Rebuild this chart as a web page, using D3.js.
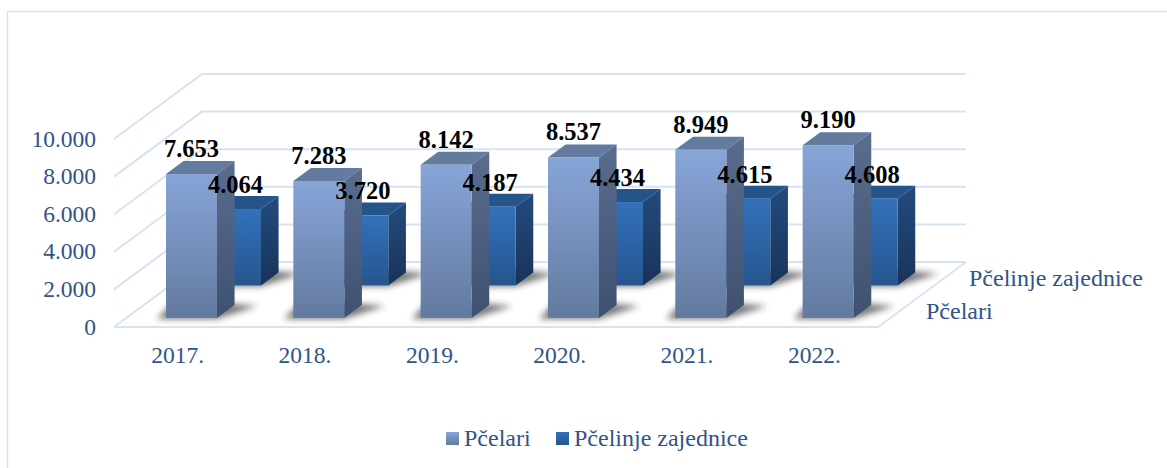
<!DOCTYPE html>
<html>
<head>
<meta charset="utf-8">
<script src="https://cdn.jsdelivr.net/npm/d3@7"></script>
<style>
html, body { margin: 0; padding: 0; background: #fff; }
svg { display: block; }
text { font-family: "Liberation Serif", serif; }
</style>
</head>
<body>
<div id="chart"></div>
<script>
const years = ["2017.", "2018.", "2019.", "2020.", "2021.", "2022."];
const pcelari = [7653, 7283, 8142, 8537, 8949, 9190];
const zajednice = [4064, 3720, 4187, 4434, 4615, 4608];
const seriesNames = ["Pčelari", "Pčelinje zajednice"];
const yTicks = [0, 2000, 4000, 6000, 8000, 10000];

const width = 1167, height = 468;
const svg = d3.select("#chart").append("svg")
    .attr("width", width)
    .attr("height", height);

const textColor = "#2f5489", gridColor = "#d6e3f3";

// Scales: x along the front edge, y up the wall, z into the depth of the floor
const xScale = d3.scaleBand().domain(years).range([114, 878]);
const yScale = d3.scaleLinear().domain([0, 10000]).range([327, 139]);
const depthX = d3.scaleLinear().domain([0, 1]).range([0, 88]);
const depthY = d3.scaleLinear().domain([0, 1]).range([0, -65]);
const zScale = d3.scaleBand().domain(seriesNames).range([0, 1]);

const barWidth = 51;
const barDepth = 0.2;
const zInset = 0.14;

const nf = d3.formatLocale({ decimal: ",", thousands: ".", grouping: [3], currency: ["", ""] }).format(",");

// Gradients
const defs = svg.append("defs");
function gradient(id, top, bottom) {
    const g = defs.append("linearGradient").attr("id", id)
        .attr("x1", 0).attr("y1", 0).attr("x2", 0).attr("y2", 1);
    g.append("stop").attr("offset", "0%").attr("stop-color", top);
    g.append("stop").attr("offset", "100%").attr("stop-color", bottom);
}
gradient("front0", "#88a5d9", "#637a9f");
gradient("side0", "#5b6d8e", "#3f5171");
gradient("front1", "#3371bb", "#25558f");
gradient("side1", "#234b7e", "#18335a");
defs.append("filter").attr("id", "blur")
    .attr("x", "-30%").attr("y", "-80%").attr("width", "160%").attr("height", "260%")
    .append("feGaussianBlur").attr("stdDeviation", 3.2);

const styles = [
    { front: "url(#front0)", side: "url(#side0)", top: "#637b9f" },
    { front: "url(#front1)", side: "url(#side1)", top: "#25548a" }
];

// Outer border
svg.append("path")
    .attr("d", `M7.5,${height} V11.5 H${width}`)
    .attr("fill", "none")
    .attr("stroke", gridColor)
    .attr("stroke-width", 1.5);

// Walls and floor
const x0 = xScale.range()[0], x1 = xScale.range()[1];
const dx = depthX(1), dy = depthY(1);
const gridG = svg.append("g").attr("fill", "none").attr("stroke", gridColor).attr("stroke-width", 2);
yTicks.forEach(t => {
    const y = yScale(t);
    gridG.append("path").attr("d", `M${x0},${y} L${x0 + dx},${y + dy} H${x1 + dx}`);
});
gridG.append("path").attr("d", `M${x0},${yScale(0)} H${x1} L${x1 + dx},${yScale(0) + dy}`);

// One 3D bar
function project(cat, value, z) {
    const x = xScale(cat) + (xScale.bandwidth() - barWidth) / 2 + depthX(z) + 1.5;
    return { x: x, y: yScale(value) + depthY(z) };
}

function drawShadow(cat, s) {
    const z = zScale(seriesNames[s]) + zInset;
    const p = project(cat, 0, z);
    const ex = depthX(barDepth), ey = depthY(barDepth);
    svg.append("path")
        .attr("d", `M${p.x - 9},${p.y + 1} H${p.x + barWidth} L${p.x + barWidth + ex + 23},${p.y + ey + 1} L${p.x + barWidth + 6},${p.y + ey - 2} H${p.x + 6} Z`)
        .attr("fill", "#222")
        .attr("opacity", 0.6)
        .attr("filter", "url(#blur)");
}

function drawBar(cat, value, s) {
    const z = zScale(seriesNames[s]) + zInset;
    const p = project(cat, value, z);
    const b = project(cat, 0, z);
    const ex = depthX(barDepth), ey = depthY(barDepth);
    const g = svg.append("g");
    g.append("path")
        .attr("d", `M${p.x},${p.y} H${p.x + barWidth} L${p.x + barWidth + ex},${p.y + ey} H${p.x + ex} Z`)
        .attr("fill", styles[s].top);
    g.append("path")
        .attr("d", `M${p.x + barWidth},${p.y} L${p.x + barWidth + ex},${p.y + ey} V${b.y + ey} L${p.x + barWidth},${b.y} Z`)
        .attr("fill", styles[s].side);
    g.append("rect")
        .attr("x", p.x).attr("y", p.y)
        .attr("width", barWidth).attr("height", b.y - p.y)
        .attr("fill", styles[s].front);
}

years.forEach(c => { drawShadow(c, 1); });
years.forEach((c, i) => { drawBar(c, zajednice[i], 1); });
years.forEach(c => { drawShadow(c, 0); });
years.forEach((c, i) => { drawBar(c, pcelari[i], 0); });

// Value labels
function drawLabels(values, s) {
    const z = zScale(seriesNames[s]) + zInset;
    svg.append("g").selectAll("text").data(values).join("text")
        .attr("x", (d, i) => project(years[i], d, z).x + barWidth / 2)
        .attr("y", (d, i) => project(years[i], d, z).y - 17 + (s ? 1 : 0))
        .attr("text-anchor", "middle")
        .attr("font-size", 24.5)
        .attr("font-weight", "bold")
        .attr("fill", "#000")
        .text(d => nf(d));
}
drawLabels(pcelari, 0);
drawLabels(zajednice, 1);

// Axes
const yAxis = svg.append("g")
    .attr("transform", `translate(${x0 - 18},0)`)
    .call(d3.axisLeft(yScale).tickValues(yTicks).tickSize(0).tickFormat(nf));
yAxis.select(".domain").remove();
yAxis.selectAll("text")
    .attr("font-family", "Liberation Serif")
    .attr("font-size", 23.5)
    .attr("fill", textColor)
    .attr("dy", "0.3em")
    .attr("x", 0);

const xAxis = svg.append("g")
    .attr("transform", "translate(0,346)")
    .call(d3.axisBottom(xScale).tickSize(0));
xAxis.select(".domain").remove();
xAxis.selectAll("text")
    .attr("font-family", "Liberation Serif")
    .attr("font-size", 23.5)
    .attr("fill", textColor)
    .attr("dy", "0.71em")
    .attr("y", 0);

// Depth axis labels
svg.append("g").selectAll("text").data(seriesNames).join("text")
    .attr("x", (d, i) => i ? 969 : 926)
    .attr("y", (d, i) => i ? 286 : 319)
    .attr("font-size", 24)
    .attr("fill", textColor)
    .text(d => d);

// Legend
const legendX = [446, 556];
const legend = svg.append("g").selectAll("g").data(seriesNames).join("g")
    .attr("transform", (d, i) => `translate(${legendX[i]},432)`);
legend.append("rect")
    .attr("width", 13).attr("height", 13)
    .attr("fill", (d, i) => styles[i].front);
legend.append("text")
    .attr("x", 18).attr("y", 14)
    .attr("font-size", 24)
    .attr("fill", textColor)
    .text(d => d);
</script>
</body>
</html>
